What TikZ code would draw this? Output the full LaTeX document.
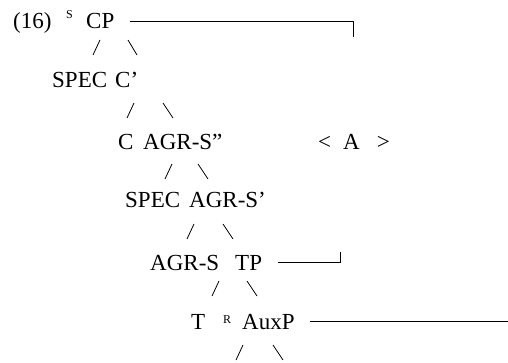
\documentclass[tikz,border=0pt]{standalone}
\usepackage{fontspec}
\setmainfont{Liberation Serif}
\begin{document}
\begin{tikzpicture}[x=1pt,y=-1pt,
  lbl/.style={anchor=base west, inner sep=0pt, font=\fontsize{23}{27}\selectfont},
  suplbl/.style={anchor=base west, inner sep=0pt, font=\fontsize{12}{14}\selectfont},
  rulebar/.style={line width=0.8pt},
  branch/.style={line width=0.8pt}]
\useasboundingbox (0,0) rectangle (508,363);
% row 1
\node[lbl] (ex) at (13,29) {(16)};
\node[suplbl] (supS) at (66,19) {S};
\node[lbl] (CP) at (86,29) {CP};
% row 2
\node[lbl] (spec1) at (52,88) {SPEC};
\node[lbl] (Cbar) at (115,88) {C'};
% row 3
\node[lbl] (C) at (118,150) {C};
\node[lbl] (agrsDP) at (143,150) {AGR-S''};
\node[lbl] (Alab) at (318,150) {<\hspace{12pt}A\hspace{17pt}>};
% row 4
\node[lbl] (spec2) at (125,208) {SPEC};
\node[lbl] (agrsP) at (189,208) {AGR-S'};
% row 5
\node[lbl] (agrs) at (150,270) {AGR-S};
\node[lbl] (TP) at (235,270) {TP};
% row 6
\node[lbl] (T) at (191,329) {T};
\node[suplbl] (supR) at (223,323) {R};
\node[lbl] (AuxP) at (242,329) {AuxP};
% bracket lines
\coordinate (cpEnd) at (353,37);
\draw[rulebar] ([xshift=15pt]CP.east) -| (cpEnd);
\coordinate (tpEnd) at (340,252);
\draw[rulebar] ([xshift=16pt]TP.east) -| (tpEnd);
\coordinate (auxEnd) at (508,322);
\draw[rulebar] ([xshift=15pt]AuxP.east) -- (auxEnd |- AuxP.east);
% branch marks
\draw[branch] (100,40) -- (93,55);   \draw[branch] (128,40) -- (137,55);
\draw[branch] (134,103) -- (127,118); \draw[branch] (163,103) -- (173,118);
\draw[branch] (172,164) -- (165,179); \draw[branch] (198,164) -- (208,179);
\draw[branch] (194,224) -- (187,239); \draw[branch] (223,224) -- (233,239);
\draw[branch] (219,281) -- (212,296); \draw[branch] (247,281) -- (257,296);
\draw[branch] (243,345) -- (236,360); \draw[branch] (273,345) -- (283,360);
\end{tikzpicture}
\end{document}
